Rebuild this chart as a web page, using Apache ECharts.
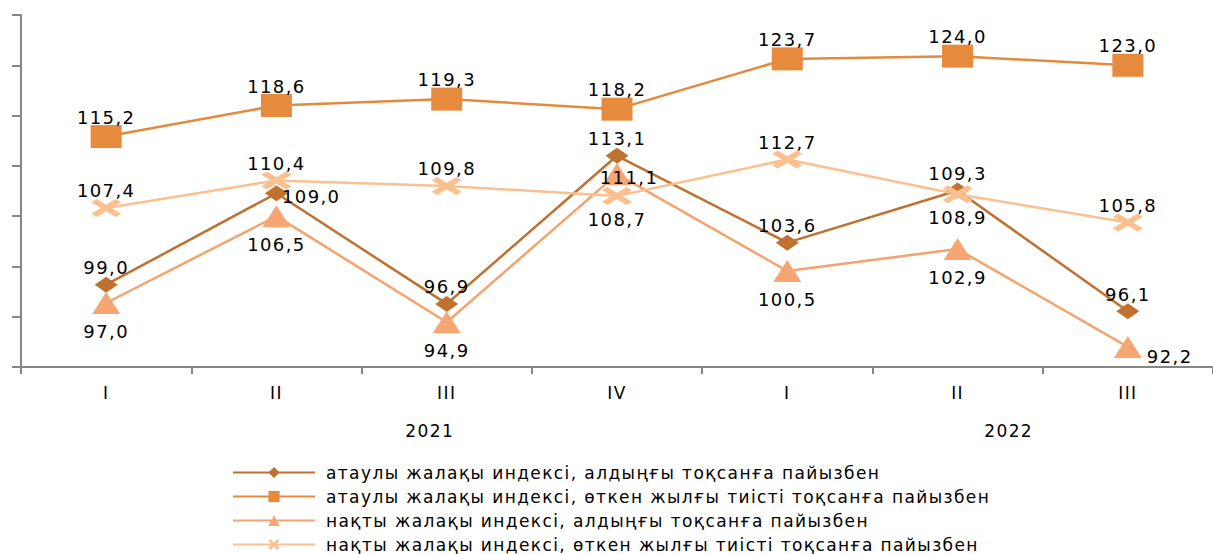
<!DOCTYPE html>
<html>
<head>
<meta charset="utf-8">
<script src="https://cdn.jsdelivr.net/npm/echarts@6/dist/echarts.min.js"></script>
<style>
  html, body { margin: 0; padding: 0; background: #fff; }
  #chart { width: 1213px; height: 554px; }
  /* мәтін сәл кеңірек, түпнұсқадағыдай */
  #chart text { letter-spacing: 1.4px; }
</style>
</head>
<body>
<div id="chart"></div>
<script>
// категориялар
var quarters = ['I', 'II', 'III', 'IV', 'I', 'II', 'III'];
var years = ['2021', '2022'];

// серия мәндері
var nomPrev = [99.0, 109.0, 96.9, 113.1, 103.6, 109.3, 96.1];
var nomYoY = [115.2, 118.6, 119.3, 118.2, 123.7, 124.0, 123.0];
var realPrev = [97.0, 106.5, 94.9, 111.1, 100.5, 102.9, 92.2];
var realYoY = [107.4, 110.4, 109.8, 108.7, 112.7, 108.9, 105.8];

var names = [
  'атаулы жалақы индексі, алдыңғы тоқсанға пайызбен',
  'атаулы жалақы индексі, өткен жылғы тиісті тоқсанға пайызбен',
  'нақты жалақы индексі, алдыңғы тоқсанға пайызбен',
  'нақты жалақы индексі, өткен жылғы тиісті тоқсанға пайызбен'
];

// жыл жазуларының орны (категория бірлігімен)
var yearPos = [2.4, 5.8];

var myChart = echarts.init(document.getElementById('chart'), null, { renderer: 'svg' });

var fmt = function (p) { return p.value.toFixed(1).replace('.', ','); };

// әр нүкте үшін жазу орны
function withLabels(values, places) {
  return values.map(function (v, i) {
    var pl = places[i];
    var item = { value: v };
    if (pl) item.label = pl;
    return item;
  });
}

var crossPath = 'path://M0,18 L18,0 L50,32 L82,0 L100,18 L68,50 L100,82 L82,100 L50,68 L18,100 L0,82 L32,50 Z';

var labelBase = {
  show: true,
  color: '#000',
  fontFamily: 'DejaVu Sans',
  fontSize: 18,
  formatter: fmt
};

var option = {
  animation: false,
  backgroundColor: '#fff',
  grid: { left: 21, top: 15, width: 1199, height: 352, containLabel: false },
  legend: {
    orient: 'vertical',
    left: 227,
    top: 459,
    height: 110,
    itemWidth: 82,
    itemHeight: 14,
    itemGap: 7,
    textStyle: { fontFamily: 'DejaVu Sans', fontSize: 17, lineHeight: 14, color: '#000', padding: [0, 0, 0, 6] },
    data: names
  },
  xAxis: [
    {
      type: 'category',
      data: quarters,
      boundaryGap: true,
      axisLine: { lineStyle: { color: '#868686', width: 2 } },
      axisTick: { show: true, length: 7, alignWithLabel: false, lineStyle: { color: '#868686', width: 2 } },
      axisLabel: { margin: 17, fontFamily: 'DejaVu Sans', fontSize: 17, color: '#000' },
      splitLine: { show: false }
    },
    {
      type: 'value',
      position: 'bottom',
      min: 0,
      max: 7,
      axisLine: { show: false },
      axisTick: { show: false },
      splitLine: { show: false },
      axisLabel: {
        customValues: yearPos,
        margin: 55,
        fontFamily: 'DejaVu Sans',
        fontSize: 17,
        color: '#000',
        formatter: function (v) {
          var i = yearPos.indexOf(v);
          return i >= 0 ? years[i] : '';
        }
      }
    }
  ],
  yAxis: [
    {
      // тек осьтің сызығы мен белгілері үшін
      type: 'value',
      min: 0,
      max: 38.5,
      interval: 5.5,
      axisLine: { show: true, lineStyle: { color: '#868686', width: 2 } },
      axisTick: { show: true, length: 9, lineStyle: { color: '#868686', width: 2 } },
      axisLabel: { show: false },
      splitLine: { show: false }
    },
    {
      type: 'value',
      min: 90,
      max: 128.5,
      show: false,
      splitLine: { show: false }
    }
  ],
  series: [
    {
      name: names[0],
      type: 'line',
      yAxisIndex: 1,
      data: withLabels(nomPrev, [null, { position: 'right', distance: -6, offset: [0, 3] }, null, null, null, null, null]),
      symbol: 'diamond',
      symbolSize: [23, 16],
      lineStyle: { color: '#C0712F', width: 2.5 },
      itemStyle: { color: '#C0712F' },
      label: Object.assign({}, labelBase, { position: 'top', distance: 0 })
    },
    {
      name: names[1],
      type: 'line',
      yAxisIndex: 1,
      data: withLabels(nomYoY, []),
      symbol: 'rect',
      symbolSize: [31, 23],
      lineStyle: { color: '#E5893C', width: 2.5 },
      itemStyle: { color: '#E68A3D' },
      label: Object.assign({}, labelBase, { position: 'top', distance: -1 })
    },
    {
      name: names[2],
      type: 'line',
      yAxisIndex: 1,
      data: withLabels(realPrev, [null, null, null,
        { position: 'inside', offset: [12, 3] }, null, null,
        { position: 'right', distance: 5, offset: [0, 10] }]),
      symbol: 'triangle',
      symbolSize: [28, 22],
      lineStyle: { color: '#F5A36E', width: 2.5 },
      itemStyle: { color: '#F5A672' },
      label: Object.assign({}, labelBase, { position: 'bottom', distance: 8 })
    },
    {
      name: names[3],
      type: 'line',
      yAxisIndex: 1,
      data: withLabels(realYoY, [null, null, null,
        { position: 'bottom', distance: 5 }, null,
        { position: 'bottom', distance: 5 }, null]),
      symbol: crossPath,
      symbolSize: [30, 18],
      lineStyle: { color: '#FAC08F', width: 2.5 },
      itemStyle: { color: '#FAC08F' },
      label: Object.assign({}, labelBase, { position: 'top', distance: -1 })
    }
  ]
};

myChart.setOption(option);
</script>
</body>
</html>
